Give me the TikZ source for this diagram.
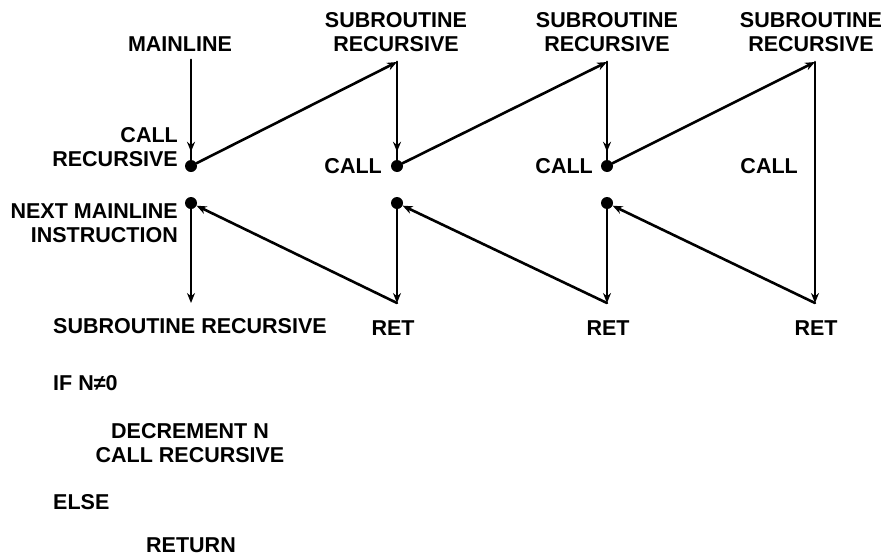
\documentclass[tikz,border=0pt]{standalone}
\usepackage{fontspec}
\setmainfont{Liberation Sans}
\usetikzlibrary{arrows.meta}
\tikzset{
  lbl/.style={font=\fontsize{21.5}{24.5}\selectfont\bfseries, inner sep=0pt},
  dot/.style={circle, fill=black, minimum size=12pt, inner sep=0pt},
  wire/.style={line width=2.6pt, line cap=round},
  tip/.style={wire, -{Stealth[length=10pt,width=8pt]}},
}
\begin{document}
\begin{tikzpicture}[x=1pt,y=-1pt]
\useasboundingbox (0,0) rectangle (886,557);
% points
\coordinate (start) at (191,60);
\node[dot] (c1) at (191,166) {};
\node[dot] (r1) at (191,203) {};
\coordinate (b1) at (191,303);
\coordinate (t2) at (397,62);
\node[dot] (c2) at (397,166) {};
\node[dot] (r2) at (397,203) {};
\coordinate (b2) at (397,303);
\coordinate (t3) at (607,62);
\node[dot] (c3) at (607,166) {};
\node[dot] (r3) at (607,203) {};
\coordinate (b3) at (607,303);
\coordinate (t4) at (815,62);
\coordinate (b4) at (815,303);
% connectors
\draw[tip, shorten >=8pt] (start) -- (c1);
\draw[wire] (start) -- (c1);
\draw[tip] (c1) -- (t2);
\draw[tip, shorten >=8pt] (t2) -- (c2);
\draw[wire] (t2) -- (c2);
\draw[tip] (c2) -- (t3);
\draw[tip, shorten >=8pt] (t3) -- (c3);
\draw[wire] (t3) -- (c3);
\draw[tip] (c3) -- (t4);
\draw[tip] (t4) -- (b4);
\draw[tip] (b4) -- (r3);
\draw[tip] (r3) -- (b3);
\draw[tip] (b3) -- (r2);
\draw[tip] (r2) -- (b2);
\draw[tip] (b2) -- (r1);
\draw[tip] (r1) -- (b1);
% labels
\node[lbl] (lmain) at (180,44) {MAINLINE};
\node[lbl, align=center] (ls2) at (396,32) {SUBROUTINE\\RECURSIVE};
\node[lbl, align=center] (ls3) at (607,32) {SUBROUTINE\\RECURSIVE};
\node[lbl, align=center] (ls4) at (811,32) {SUBROUTINE\\RECURSIVE};
\node[lbl, align=right, anchor=east] (lcr) at (178,147) {CALL\\RECURSIVE};
\node[lbl, anchor=east] (lc2) at (382,166) {CALL};
\node[lbl, anchor=east] (lc3) at (593,166) {CALL};
\node[lbl, anchor=east] (lc4) at (798,166) {CALL};
\node[lbl, align=right, anchor=east] (lnext) at (178,223) {NEXT MAINLINE\\INSTRUCTION};
\node[lbl, anchor=west] (lsub) at (53,326) {SUBROUTINE RECURSIVE};
\node[lbl] (lr2) at (393,328) {RET};
\node[lbl] (lr3) at (608,328) {RET};
\node[lbl] (lr4) at (816,328) {RET};
\node[lbl, anchor=west] (lif) at (53,383) {IF N≠0};
\node[lbl, align=center] (ldec) at (190,443) {DECREMENT N\\CALL RECURSIVE};
\node[lbl, anchor=west] (lelse) at (53,502) {ELSE};
\node[lbl] (lret) at (191,545) {RETURN};
\end{tikzpicture}
\end{document}
